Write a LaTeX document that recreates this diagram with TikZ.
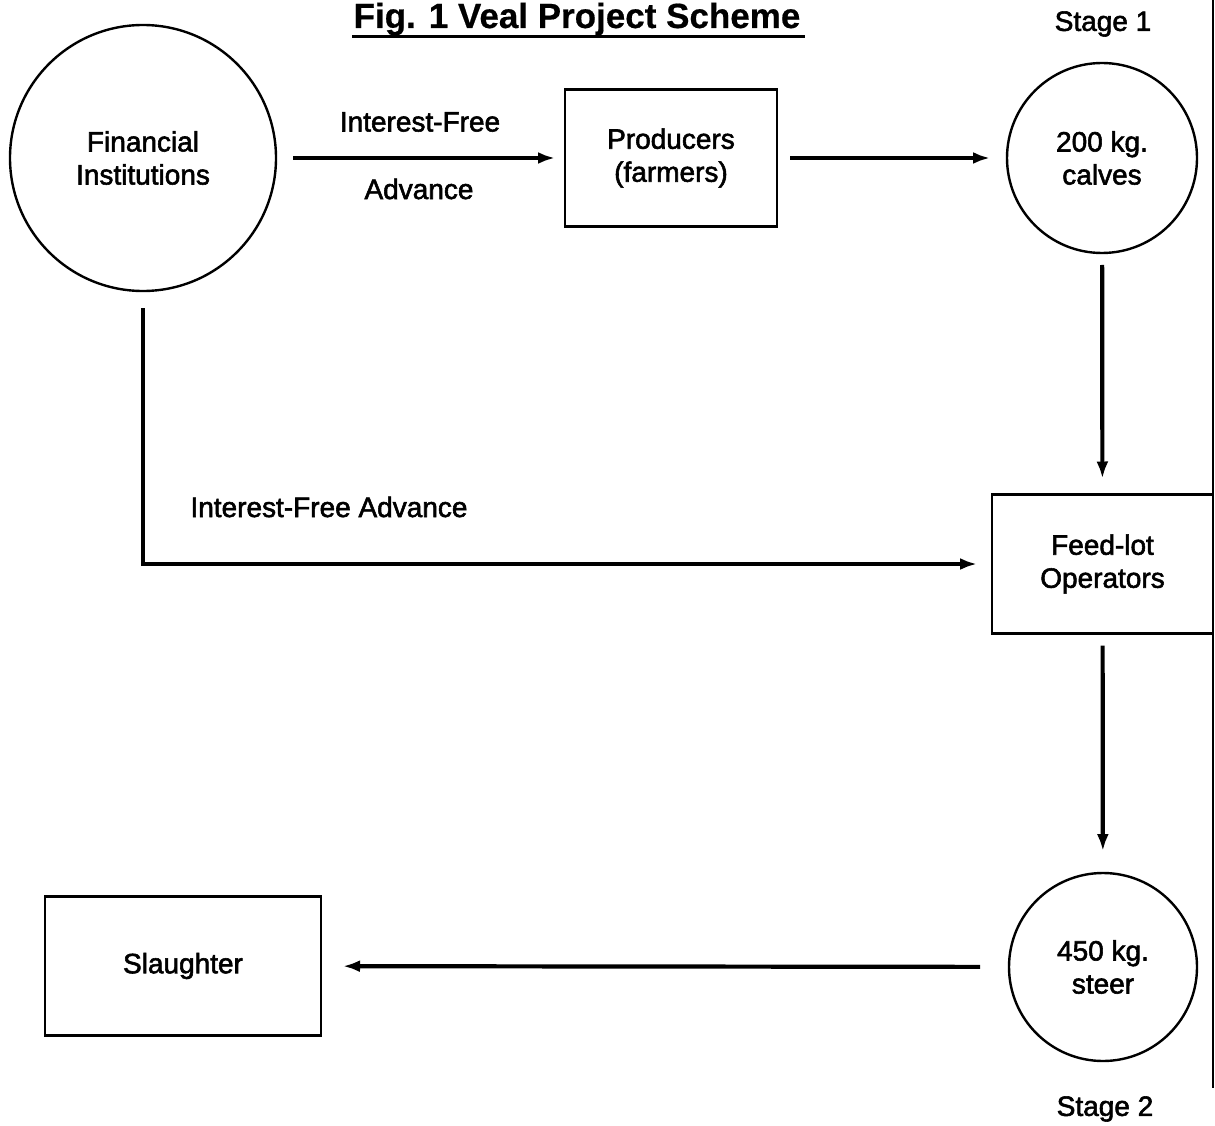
\documentclass[tikz,border=0pt]{standalone}
\usepackage{fontspec}
\setmainfont{Liberation Sans}[FakeBold=2]
\newfontfamily\titlefont{Liberation Sans}[FakeBold=0.5]
\usetikzlibrary{arrows.meta,shapes.geometric}
\begin{document}
\begin{tikzpicture}[x=1pt,y=-1pt,
  txt/.style={font={\fontsize{28}{33}\selectfont},align=center,inner sep=0pt},
  roundnode/.style={circle,draw,line width=2.4pt,inner sep=0pt,outer sep=0pt,txt},
  boxnode/.style={rectangle,draw,line width=2.4pt,inner sep=0pt,outer sep=0pt,txt},
  arr/.style={line width=4.2pt,-{Latex[length=17pt,width=12pt]}},
  lbl/.style={txt}]
\useasboundingbox (0,0) rectangle (1215,1126);
% title
\node[font={\titlefont\bfseries\fontsize{35}{40}\selectfont},anchor=base,inner sep=0pt] (title) at (577,28) {Fig. 1 Veal Project Scheme};
\draw[line width=3pt] (352,37) -- (805,37);
\node[lbl] (stage1) at (1103,24) {Stage 1};
\node[lbl] (stage2) at (1105,1109) {Stage 2};
% nodes
\node[roundnode,minimum size=266pt] (fin) at (143,158) {Financial\\Institutions};
\node[boxnode,minimum width=212pt,minimum height=137pt] (prod) at (671,158) {Producers\\(farmers)};
\node[roundnode,minimum size=190pt] (calves) at (1102,158) {200 kg.\\calves};
\node[boxnode,minimum width=221pt,minimum height=139pt] (feed) at (1102.5,564) {Feed-lot\\Operators};
\node[roundnode,minimum size=188pt] (steer) at (1103,967) {450 kg.\\steer};
\node[boxnode,minimum width=276pt,minimum height=139pt] (slaughter) at (183,966) {Slaughter};
% connectors
\draw[arr,shorten <=17pt,shorten >=10pt] (fin) -- (prod);
\node[lbl] (ifa1) at (420,122) {Interest-Free};
\node[lbl] (adv1) at (419,189) {Advance};
\draw[arr,shorten <=13pt,shorten >=17pt] (prod) -- (calves);
\draw[arr,shorten <=12pt,shorten >=16pt] (calves) -- (feed);
\draw[arr,shorten <=12pt,shorten >=22pt] (feed) -- (steer);
\draw[arr,shorten <=29pt,shorten >=22pt] (steer) -- (slaughter);
\draw[arr] ([yshift=-17pt]fin.south) |- ([xshift=-15pt]feed.west);
\node[lbl] (ifa2) at (329,507) {Interest-Free Advance};
% right border line
\draw[line width=2pt] (1213,0) -- (1213,1088);
\end{tikzpicture}
\end{document}
